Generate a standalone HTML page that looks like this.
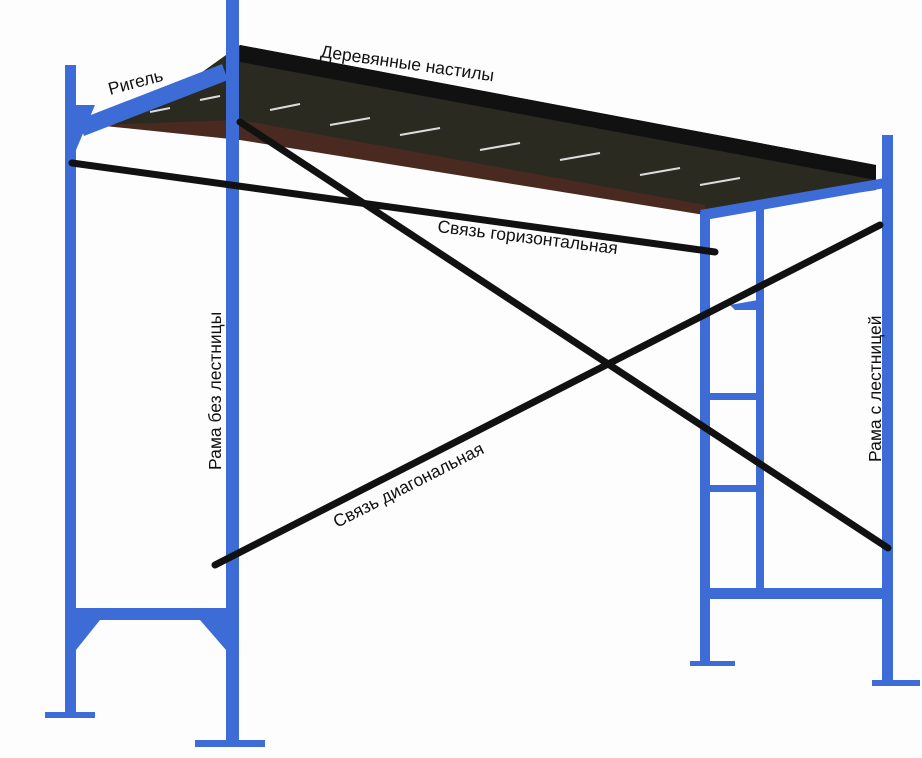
<!DOCTYPE html>
<html><head><meta charset="utf-8"><style>
html,body{margin:0;padding:0;background:#fff;}
svg{display:block;}
text{font-family:"Liberation Sans","DejaVu Sans",sans-serif;font-size:17.5px;fill:#111;}
</style></head><body>
<svg width="922" height="758" viewBox="0 0 922 758">
<rect width="922" height="758" fill="#fdfdfd"/>
<!-- deck -->
<polygon points="240,45 876,165 876,190 705,215 240,138 95,125 170,95" fill="#2a2a20"/>
<polygon points="240,120 705,205 705,215 240,140 95,125" fill="#4a2a20"/>
<polygon points="240,45 876,165 876,180 240,62" fill="#111"/>
<g stroke="#ddd" stroke-width="2">
<line x1="270" y1="110" x2="300" y2="104"/><line x1="330" y1="125" x2="370" y2="118"/>
<line x1="400" y1="135" x2="440" y2="128"/><line x1="480" y1="150" x2="520" y2="143"/>
<line x1="560" y1="160" x2="600" y2="153"/><line x1="640" y1="175" x2="680" y2="168"/>
<line x1="700" y1="185" x2="740" y2="178"/><line x1="200" y1="100" x2="220" y2="96"/>
<line x1="150" y1="112" x2="170" y2="108"/>
</g>
<!-- left frame -->
<g fill="#3d6cd6">
<rect x="65" y="65" width="11" height="650"/>
<rect x="226" y="0" width="13" height="745"/>
<rect x="70" y="608" width="160" height="12"/>
<polygon points="76,620 100,620 76,650"/><polygon points="226,620 200,620 226,650"/>
<polygon points="76,105 95,105 76,150"/>
<rect x="45" y="712" width="50" height="6"/>
<rect x="195" y="740" width="70" height="7"/>
<!-- right frame -->
<rect x="882" y="135" width="11" height="548"/>
<rect x="700" y="212" width="10" height="453"/>
<rect x="756" y="205" width="8" height="392"/>
<rect x="705" y="588" width="180" height="11"/>
<rect x="708" y="393" width="50" height="7"/><rect x="708" y="485" width="50" height="7"/>
<polygon points="730,305 758,300 758,310 735,310"/>
<rect x="690" y="661" width="45" height="5"/>
<rect x="872" y="680" width="48" height="6"/>
</g>
<polygon points="700,210 885,178 885,188 705,220" fill="#3d6cd6"/>
<!-- rigel -->
<polygon points="78,120 222,64 228,80 84,136" fill="#3d6cd6"/>
<!-- black braces -->
<g stroke="#111" stroke-width="7" stroke-linecap="round">
<line x1="72" y1="163" x2="715" y2="252"/>
<line x1="240" y1="122" x2="888" y2="548"/>
<line x1="215" y1="565" x2="880" y2="225"/>
</g>
<!-- labels -->
<text transform="translate(110,95) rotate(-15)">Ригель</text>
<text transform="translate(320,57) rotate(8)">Деревянные настилы</text>
<text transform="translate(437,232) rotate(7)">Связь горизонтальная</text>
<text transform="translate(221,470) rotate(-90)">Рама без лестницы</text>
<text transform="translate(881,462) rotate(-90)">Рама с лестницей</text>
<text transform="translate(337,528) rotate(-27)">Связь диагональная</text>
</svg>
</body></html>
